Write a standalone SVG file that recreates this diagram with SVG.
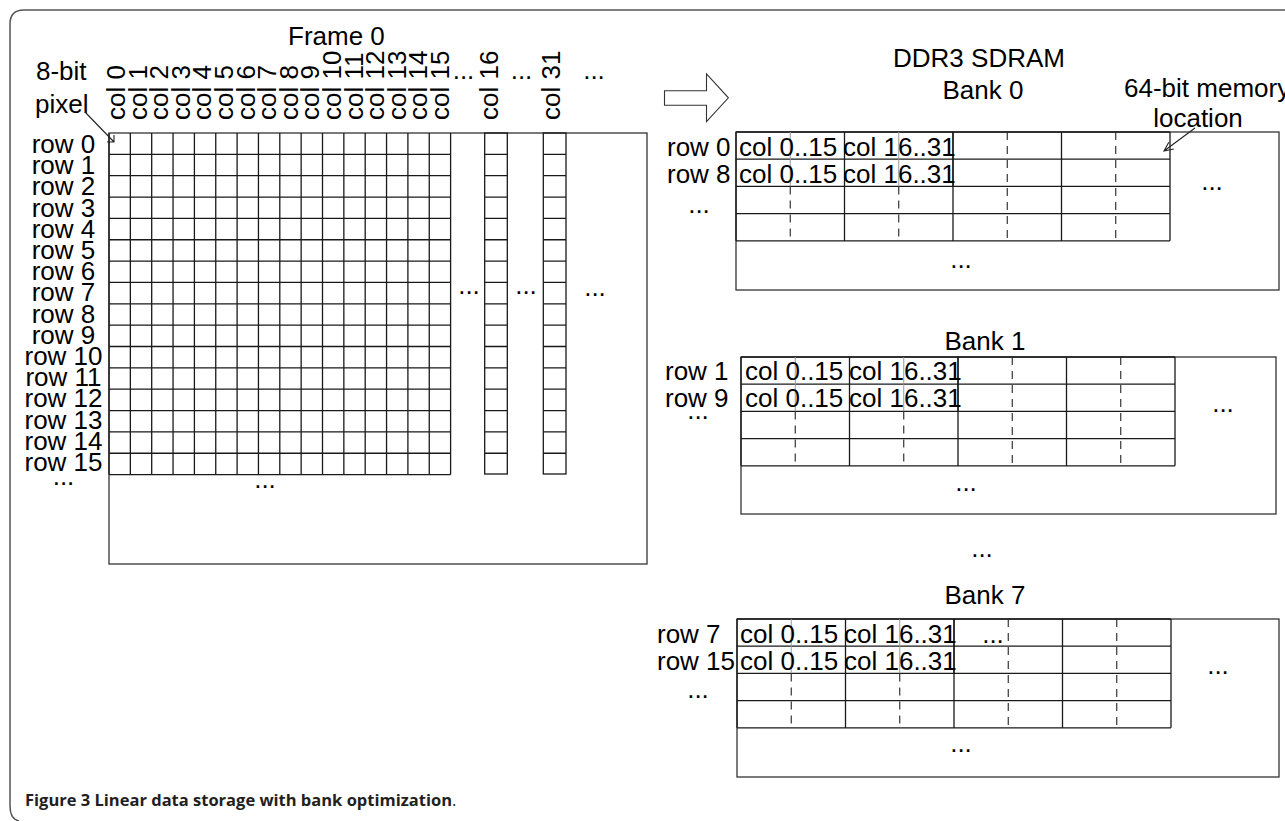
<svg xmlns="http://www.w3.org/2000/svg" xmlns:xlink="http://www.w3.org/1999/xlink" width="1285" height="821" viewBox="0 0 1285 821">
<style>
  .t { font-family: "Liberation Sans", Arial, sans-serif; font-size: 26px; fill: #000; }
  .m { text-anchor: middle; }
  .e { text-anchor: end; }
  .grid { fill: none; stroke: #1a1a1a; stroke-width: 1.3; }
  .box { fill: none; stroke: #333; stroke-width: 1.3; }
  .dash { fill: none; stroke: #222; stroke-width: 1.1; stroke-dasharray: 8 6; }
  .light { fill: none; stroke: #999; stroke-width: 1; }
  .ptr { fill: none; stroke: #222; stroke-width: 1.1; }
  .cap { font-family: "Open Sans", "Liberation Sans", sans-serif; font-size: 16.5px; font-weight: bold; fill: #231f20; }
</style>
<defs>
  <g id="bankGrid">
    <path class="grid" d="M0,0V108.8M108.5,0V108.8M217,0V108.8M325.5,0V108.8M434,0V108.8M0,0H434M0,27.2H434M0,54.4H434M0,81.6H434M0,108.8H434"/>
    <path class="grid" stroke-width="2" d="M217,0V54.4"/>
    <path class="light" d="M54.25,0V54.4M162.75,0V54.4"/>
    <path class="dash" d="M54.25,54.4V108.8M162.75,54.4V108.8M271.25,0V108.8M379.75,0V108.8"/>
  </g>
</defs>
<rect width="1285" height="821" fill="#fff"/>

<g id="figure-frame">
  <path d="M1285,10H24Q10,10 10,24V806Q10,819 19,821" fill="none" stroke="#555" stroke-width="1.5"/>
</g>

<g id="frame0">
  <text class="t" x="288" y="45">Frame 0</text>
  <text class="t" x="36" y="80">8-bit</text>
  <text class="t" x="35" y="113">pixel</text>
  <rect class="box" x="109" y="133" width="538" height="431"/>
  <path class="grid" d="M109,133V474.6M130.35,133V474.6M151.7,133V474.6M173.05,133V474.6M194.4,133V474.6M215.75,133V474.6M237.1,133V474.6M258.45,133V474.6M279.8,133V474.6M301.15,133V474.6M322.5,133V474.6M343.85,133V474.6M365.2,133V474.6M386.55,133V474.6M407.9,133V474.6M429.25,133V474.6M450.6,133V474.6"/>
  <path class="grid" d="M109,154.35H450.6M109,175.7H450.6M109,197.05H450.6M109,218.4H450.6M109,239.75H450.6M109,261.1H450.6M109,282.45H450.6M109,303.8H450.6M109,325.15H450.6M109,346.5H450.6M109,367.85H450.6M109,389.2H450.6M109,410.55H450.6M109,431.9H450.6M109,453.25H450.6M109,474.6H450.6"/>
  <rect class="grid" x="484.7" y="133" width="22.6" height="341"/>
  <rect class="grid" x="543.3" y="133" width="22.7" height="341"/>
  <path class="grid" d="M484.7,154.35H507.3M484.7,175.7H507.3M484.7,197.05H507.3M484.7,218.4H507.3M484.7,239.75H507.3M484.7,261.1H507.3M484.7,282.45H507.3M484.7,303.8H507.3M484.7,325.15H507.3M484.7,346.5H507.3M484.7,367.85H507.3M484.7,389.2H507.3M484.7,410.55H507.3M484.7,431.9H507.3M484.7,453.25H507.3"/>
  <path class="grid" d="M543.3,154.35H566M543.3,175.7H566M543.3,197.05H566M543.3,218.4H566M543.3,239.75H566M543.3,261.1H566M543.3,282.45H566M543.3,303.8H566M543.3,325.15H566M543.3,346.5H566M543.3,367.85H566M543.3,389.2H566M543.3,410.55H566M543.3,431.9H566M543.3,453.25H566"/>

  <g id="col-labels">
    <text class="t" transform="translate(125,120) rotate(-90)">col 0</text>
    <text class="t" transform="translate(146.6,120) rotate(-90)">col 1</text>
    <text class="t" transform="translate(168.2,120) rotate(-90)">col 2</text>
    <text class="t" transform="translate(189.8,120) rotate(-90)">col 3</text>
    <text class="t" transform="translate(211.4,120) rotate(-90)">col 4</text>
    <text class="t" transform="translate(233,120) rotate(-90)">col 5</text>
    <text class="t" transform="translate(254.6,120) rotate(-90)">col 6</text>
    <text class="t" transform="translate(276.2,120) rotate(-90)">col 7</text>
    <text class="t" transform="translate(297.8,120) rotate(-90)">col 8</text>
    <text class="t" transform="translate(319.4,120) rotate(-90)">col 9</text>
    <text class="t" transform="translate(341,120) rotate(-90)">col 10</text>
    <text class="t" transform="translate(362.6,120) rotate(-90)">col 11</text>
    <text class="t" transform="translate(384.2,120) rotate(-90)">col 12</text>
    <text class="t" transform="translate(405.8,120) rotate(-90)">col 13</text>
    <text class="t" transform="translate(427.4,120) rotate(-90)">col 14</text>
    <text class="t" transform="translate(449,120) rotate(-90)">col 15</text>
    <text class="t" transform="translate(498,120) rotate(-90)">col 16</text>
    <text class="t" transform="translate(560,120) rotate(-90)">col 31</text>
    <text class="t m" x="463.5" y="79">...</text>
    <text class="t m" x="521.5" y="79">...</text>
    <text class="t m" x="594" y="79">...</text>
  </g>

  <g id="row-labels">
    <text class="t m" x="63.5" y="153">row 0</text>
    <text class="t m" x="63.5" y="174.2">row 1</text>
    <text class="t m" x="63.5" y="195.4">row 2</text>
    <text class="t m" x="63.5" y="216.6">row 3</text>
    <text class="t m" x="63.5" y="237.8">row 4</text>
    <text class="t m" x="63.5" y="259">row 5</text>
    <text class="t m" x="63.5" y="280.2">row 6</text>
    <text class="t m" x="63.5" y="301.4">row 7</text>
    <text class="t m" x="63.5" y="322.6">row 8</text>
    <text class="t m" x="63.5" y="343.8">row 9</text>
    <text class="t m" x="63.5" y="365">row 10</text>
    <text class="t m" x="63.5" y="386.2">row 11</text>
    <text class="t m" x="63.5" y="407.4">row 12</text>
    <text class="t m" x="63.5" y="428.6">row 13</text>
    <text class="t m" x="63.5" y="449.8">row 14</text>
    <text class="t m" x="63.5" y="471">row 15</text>
    <text class="t m" x="63.5" y="485">...</text>
  </g>
  <text class="t m" x="469" y="294">...</text>
  <text class="t m" x="526" y="294">...</text>
  <text class="t m" x="595" y="296">...</text>
  <text class="t m" x="265" y="488">...</text>
</g>

<g id="transfer-arrow">
  <polygon points="664.5,90.8 706.5,90.8 706.5,74 728.4,97.8 706.5,121.5 706.5,105.2 664.5,105.2" fill="#fff" stroke="#333" stroke-width="1.1"/>
</g>

<g id="ddr3-title">
  <text class="t m" x="979" y="67">DDR3 SDRAM</text>
  <text class="t" x="1124" y="97">64-bit memory</text>
  <text class="t m" x="1198" y="127">location</text>
</g>

<g id="bank0">
  <text class="t m" x="983" y="99">Bank 0</text>
  <rect class="box" x="736" y="132" width="543" height="158"/>
  <use xlink:href="#bankGrid" href="#bankGrid" transform="translate(736,132)"/>
  <text class="t" x="667" y="156">row 0</text>
  <text class="t" x="667" y="183">row 8</text>
  <text class="t m" x="699" y="213">...</text>
  <text class="t" x="739" y="156">col 0..15</text>
  <text class="t" x="843" y="156">col 16..31</text>
  <text class="t" x="739" y="183">col 0..15</text>
  <text class="t" x="843" y="183">col 16..31</text>
  <text class="t m" x="961" y="268">...</text>
  <text class="t m" x="1212" y="190">...</text>
</g>

<g id="bank1">
  <text class="t m" x="985" y="350">Bank 1</text>
  <rect class="box" x="741" y="357" width="535" height="157"/>
  <use xlink:href="#bankGrid" href="#bankGrid" transform="translate(741,357)"/>
  <text class="t" x="665" y="380">row 1</text>
  <text class="t" x="665" y="407">row 9</text>
  <text class="t m" x="698" y="419">...</text>
  <text class="t" x="745" y="380">col 0..15</text>
  <text class="t" x="849" y="380">col 16..31</text>
  <text class="t" x="745" y="407">col 0..15</text>
  <text class="t" x="849" y="407">col 16..31</text>
  <text class="t m" x="966" y="491">...</text>
  <text class="t m" x="1223" y="412">...</text>
</g>

<text class="t m" x="982" y="557">...</text>

<g id="bank7">
  <text class="t m" x="985" y="604">Bank 7</text>
  <rect class="box" x="737" y="619" width="542" height="158"/>
  <use xlink:href="#bankGrid" href="#bankGrid" transform="translate(737,619)"/>
  <text class="t" x="657" y="643">row 7</text>
  <text class="t" x="657" y="670">row 15</text>
  <text class="t m" x="698" y="698">...</text>
  <text class="t" x="740" y="643">col 0..15</text>
  <text class="t" x="844" y="643">col 16..31</text>
  <text class="t" x="740" y="670">col 0..15</text>
  <text class="t" x="844" y="670">col 16..31</text>
  <text class="t m" x="993" y="643">...</text>
  <text class="t m" x="961" y="752">...</text>
  <text class="t m" x="1218" y="674">...</text>
</g>

<g id="connectors">
  <path class="ptr" d="M85,112L114,142M107,142H114V135"/>
  <path class="ptr" d="M1195,128L1164,151M1173.8,149L1164,151L1168.8,142.2"/>
</g>

<g id="caption">
  <text class="cap" x="25" y="806">Figure 3 Linear data storage with bank optimization<tspan font-weight="normal">.</tspan></text>
</g>
</svg>
